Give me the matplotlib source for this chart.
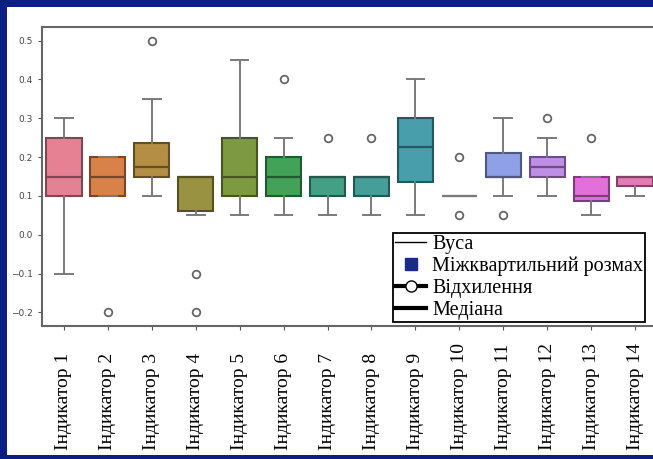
import matplotlib
matplotlib.use("Agg")
import matplotlib.pyplot as plt
from matplotlib.lines import Line2D
from matplotlib.patches import Rectangle
import seaborn as sns

# Box statistics for each indicator
labels = [f"Індикатор {i}" for i in range(1, 15)]
whislo = [-0.10, 0.10, 0.10, 0.05, 0.05, 0.05, 0.05, 0.05, 0.05, 0.10, 0.10, 0.10, 0.05, 0.10]
q1     = [0.10, 0.10, 0.15, 0.062, 0.10, 0.10, 0.10, 0.10, 0.137, 0.10, 0.15, 0.15, 0.087, 0.125]
median = [0.15, 0.15, 0.175, 0.15, 0.15, 0.15, 0.15, 0.15, 0.225, 0.10, 0.15, 0.175, 0.10, 0.15]
q3     = [0.25, 0.20, 0.237, 0.15, 0.25, 0.20, 0.15, 0.15, 0.30, 0.10, 0.21, 0.20, 0.15, 0.15]
whishi = [0.30, 0.20, 0.35, 0.15, 0.45, 0.25, 0.15, 0.15, 0.40, 0.10, 0.30, 0.25, 0.15, 0.15]
fliers = [[], [-0.2], [0.5], [-0.1, -0.2], [], [0.4], [0.25], [0.25], [], [0.2, 0.05],
          [0.05], [0.3], [0.25], []]

stats = [dict(label=l, whislo=a, q1=b, med=c, q3=d, whishi=e, fliers=f)
         for l, a, b, c, d, e, f in zip(labels, whislo, q1, median, q3, whishi, fliers)]

colors = sns.color_palette("husl", len(labels), desat=0.75)
dark = [tuple(0.55 * v for v in c) for c in colors]
gray = "#7a7a7a"

W, H = 653, 459
fig = plt.figure(figsize=(W / 100, H / 100), dpi=100, facecolor="#0b1e84")
panel = Rectangle((7 / W, 4 / H), 1.0, (455 - 7) / H, transform=fig.transFigure,
                  facecolor="white", edgecolor="none", zorder=-10)
fig.patches.append(panel)

ax = fig.add_axes([42 / W, (H - 326) / H, 615 / W, 299 / H])
bp = ax.bxp(stats, positions=range(len(labels)), widths=0.8, patch_artist=True,
            boxprops=dict(linewidth=1.5),
            whiskerprops=dict(color=gray, linewidth=1.4),
            capprops=dict(color=gray, linewidth=1.4),
            medianprops=dict(linewidth=1.6),
            flierprops=dict(marker="o", markerfacecolor="none", markeredgecolor="#666666",
                            markersize=5.5, markeredgewidth=1.3))
for patch, med, c, d in zip(bp["boxes"], bp["medians"], colors, dark):
    patch.set_facecolor(c)
    patch.set_edgecolor(d)
    med.set_color(d)
bp["medians"][9].set_color(gray)
bp["boxes"][9].set_edgecolor(gray)

ax.set_xlim(-0.5, len(labels) - 0.5)
ax.set_ylim(-0.235, 0.535)
ax.set_yticks([-0.2, -0.1, 0.0, 0.1, 0.2, 0.3, 0.4, 0.5])
ax.set_yticklabels(["−0.2", "−0.1", "0.0", "0.1", "0.2", "0.3", "0.4", "0.5"])
ax.tick_params(axis="y", labelsize=6.5, labelcolor="#444444", length=3, color="#555555")
ax.set_xticks(range(len(labels)))
ax.set_xticklabels(labels, rotation=90, family="Liberation Serif", fontsize=14,
                   va="bottom")
ax.tick_params(axis="x", length=3, pad=86, color="#555555")
for s in ax.spines.values():
    s.set_color("#666666")
    s.set_linewidth(1.5)

handles = [
    Line2D([], [], color="black", lw=1),
    Line2D([], [], color="#1a2a8c", marker="s", linestyle="none", markersize=8.5),
    Line2D([], [], color="black", lw=3, marker="o", markerfacecolor="white",
           markeredgecolor="black", markersize=8),
    Line2D([], [], color="black", lw=3),
]
names = ["Вуса", "Міжквартильний розмах", "Відхилення", "Медіана"]
leg = ax.legend(handles, names, loc="lower left", bbox_to_anchor=(0.571, 0.013),
                borderaxespad=0, prop=dict(family="Liberation Serif", size=14.5),
                fancybox=False, framealpha=1, edgecolor="black",
                labelspacing=0.14, handlelength=1.55, handletextpad=0.3,
                borderpad=0.1)
leg.get_frame().set_linewidth(1.3)

fig.savefig("out.png", dpi=100, facecolor=fig.get_facecolor())
